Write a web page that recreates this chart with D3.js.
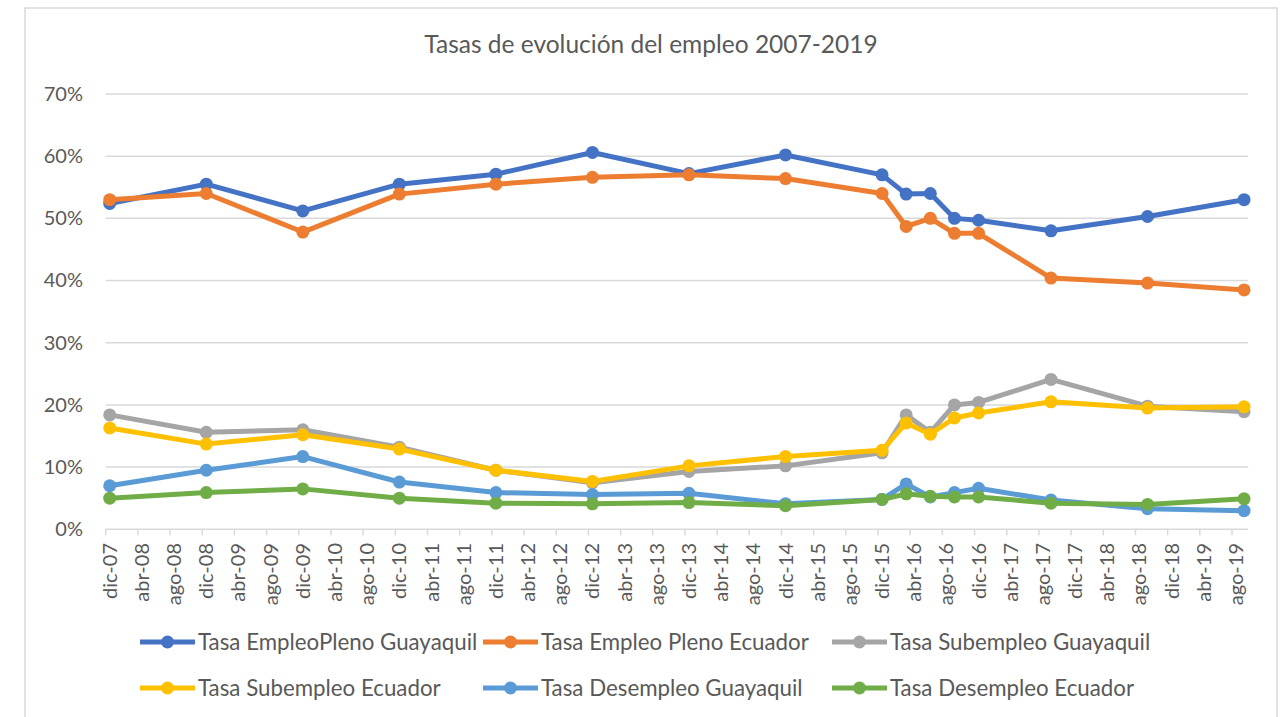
<!DOCTYPE html>
<html>
<head>
<meta charset="utf-8">
<script src="https://cdn.jsdelivr.net/npm/d3@7"></script>
<style>
  body { margin: 0; background: #fff; }
  svg { display: block; font-family: Lato, "Open Sans", sans-serif; }
</style>
</head>
<body>
<div id="chart"></div>
<script>
// periods where each rate was measured (year-month)
const periods = ["2007-12", "2008-12", "2009-12", "2010-12", "2011-12", "2012-12", "2013-12", "2014-12",
                 "2015-12", "2016-03", "2016-06", "2016-09", "2016-12", "2017-09", "2018-09", "2019-09"];

// rates in percent
const plenoGuayaquil = [52.4, 55.5, 51.2, 55.5, 57.1, 60.6, 57.2, 60.2, 57.0, 53.9, 54.0, 50.0, 49.7, 48.0, 50.3, 53.0];
const plenoEcuador = [53.0, 54.0, 47.8, 53.9, 55.5, 56.6, 57.0, 56.4, 54.0, 48.7, 50.0, 47.6, 47.6, 40.4, 39.6, 38.5];
const subGuayaquil = [18.4, 15.6, 16.0, 13.2, 9.5, 7.5, 9.3, 10.2, 12.3, 18.4, 15.6, 20.0, 20.4, 24.1, 19.8, 18.9];
const subEcuador = [16.3, 13.7, 15.2, 12.9, 9.5, 7.7, 10.2, 11.7, 12.7, 17.1, 15.3, 17.9, 18.7, 20.5, 19.5, 19.7];
const desGuayaquil = [7.0, 9.5, 11.7, 7.6, 5.9, 5.6, 5.8, 4.1, 4.8, 7.3, 5.2, 5.9, 6.6, 4.7, 3.3, 3.0];
const desEcuador = [5.0, 5.9, 6.5, 5.0, 4.2, 4.1, 4.3, 3.8, 4.8, 5.7, 5.3, 5.2, 5.2, 4.2, 4.0, 4.9];

const seriesNames = ["Tasa EmpleoPleno Guayaquil", "Tasa Empleo Pleno Ecuador", "Tasa Subempleo Guayaquil",
                     "Tasa Subempleo Ecuador", "Tasa Desempleo Guayaquil", "Tasa Desempleo Ecuador"];
const seriesValues = [plenoGuayaquil, plenoEcuador, subGuayaquil, subEcuador, desGuayaquil, desEcuador];
const seriesColors = ["#4472C4", "#ED7D31", "#A5A5A5", "#FFC000", "#5B9BD5", "#70AD47"];

const yTicks = [0, 10, 20, 30, 40, 50, 60, 70];
const mesesEs = ["ene", "feb", "mar", "abr", "may", "jun", "jul", "ago", "sep", "oct", "nov", "dic"];

function drawChart() {
    const width = 1281, height = 717;
    const textColor = "#595959";
    const gridColor = "#D9D9D9";

    const svg = d3.select("#chart")
        .append("svg")
        .attr("width", width)
        .attr("height", height);

    // chart border
    svg.append("rect")
        .attr("x", 25).attr("y", 8)
        .attr("width", 1252).attr("height", 740)
        .attr("fill", "#fff")
        .attr("stroke", gridColor)
        .attr("stroke-width", 1.5);

    // title
    svg.append("text")
        .attr("x", 651)
        .attr("y", 53)
        .attr("text-anchor", "middle")
        .attr("font-size", "24.5px")
        .attr("fill", textColor)
        .text("Tasas de evolución del empleo 2007-2019");

    // month bands from dic-07 to sep-19 (date axis, base unit = month)
    const fmt = d3.utcFormat("%Y-%m");
    const months = d3.utcMonth.range(new Date(Date.UTC(2007, 11, 1)), new Date(Date.UTC(2019, 9, 1)));
    const monthKeys = months.map(fmt);

    const x = d3.scaleBand()
        .domain(monthKeys)
        .range([105.7, 1248.1])
        .padding(0);

    const y = d3.scaleLinear()
        .domain([0, 70])
        .range([529.3, 94]);

    const xc = key => x(key) + x.bandwidth() / 2;

    // horizontal gridlines
    svg.append("g")
        .selectAll("line")
        .data(yTicks)
        .enter()
        .append("line")
        .attr("x1", x.range()[0])
        .attr("x2", x.range()[1])
        .attr("y1", d => y(d))
        .attr("y2", d => y(d))
        .attr("stroke", gridColor)
        .attr("stroke-width", 1.5);

    // y axis labels
    const yAxis = d3.axisLeft(y)
        .tickValues(yTicks)
        .tickSize(0)
        .tickPadding(0)
        .tickFormat(d => d + "%");
    svg.append("g")
        .attr("transform", "translate(83,0)")
        .call(yAxis)
        .call(g => g.select(".domain").remove())
        .selectAll("text")
        .attr("font-family", "Lato, sans-serif")
        .attr("font-size", "20px")
        .attr("fill", textColor);

    // x tick marks every 4 months at month boundaries + rotated labels
    const tickKeys = monthKeys.filter((k, i) => i % 4 === 0);
    const xg = svg.append("g");
    xg.selectAll("line")
        .data(tickKeys)
        .enter()
        .append("line")
        .attr("x1", d => x(d))
        .attr("x2", d => x(d))
        .attr("y1", y(0))
        .attr("y2", y(0) + 6)
        .attr("stroke", gridColor)
        .attr("stroke-width", 1.5);

    xg.selectAll("text")
        .data(tickKeys)
        .enter()
        .append("text")
        .attr("transform", d => `translate(${xc(d)},543) rotate(-90)`)
        .attr("text-anchor", "end")
        .attr("dy", "0.35em")
        .attr("font-size", "20px")
        .attr("fill", textColor)
        .text(d => {
            const parts = d.split("-");
            return mesesEs[+parts[1] - 1] + "-" + parts[0].slice(2);
        });

    // series lines + markers
    const line = d3.line()
        .x((d, i) => xc(periods[i]))
        .y(d => y(d));

    seriesValues.forEach((vals, s) => {
        const g = svg.append("g");
        g.append("path")
            .datum(vals)
            .attr("d", line)
            .attr("fill", "none")
            .attr("stroke", seriesColors[s])
            .attr("stroke-width", 5)
            .attr("stroke-linejoin", "round")
            .attr("stroke-linecap", "round");
        g.selectAll("circle")
            .data(vals)
            .enter()
            .append("circle")
            .attr("cx", (d, i) => xc(periods[i]))
            .attr("cy", d => y(d))
            .attr("r", 6.5)
            .attr("fill", seriesColors[s]);
    });

    // legend: 3 columns, 2 rows
    const legendCols = [140, 483, 832];
    const legendRows = [642, 688];
    const legend = svg.append("g");
    seriesNames.forEach((name, s) => {
        const lx = legendCols[s % 3];
        const ly = legendRows[Math.floor(s / 3)];
        legend.append("line")
            .attr("x1", lx).attr("x2", lx + 55)
            .attr("y1", ly).attr("y2", ly)
            .attr("stroke", seriesColors[s])
            .attr("stroke-width", 5);
        legend.append("circle")
            .attr("cx", lx + 27.5).attr("cy", ly)
            .attr("r", 6.5)
            .attr("fill", seriesColors[s]);
        legend.append("text")
            .attr("x", lx + 58)
            .attr("y", ly)
            .attr("dy", "0.35em")
            .attr("font-size", "22.3px")
            .attr("fill", textColor)
            .text(name);
    });
}

document.addEventListener("DOMContentLoaded", drawChart);
</script>
</body>
</html>
